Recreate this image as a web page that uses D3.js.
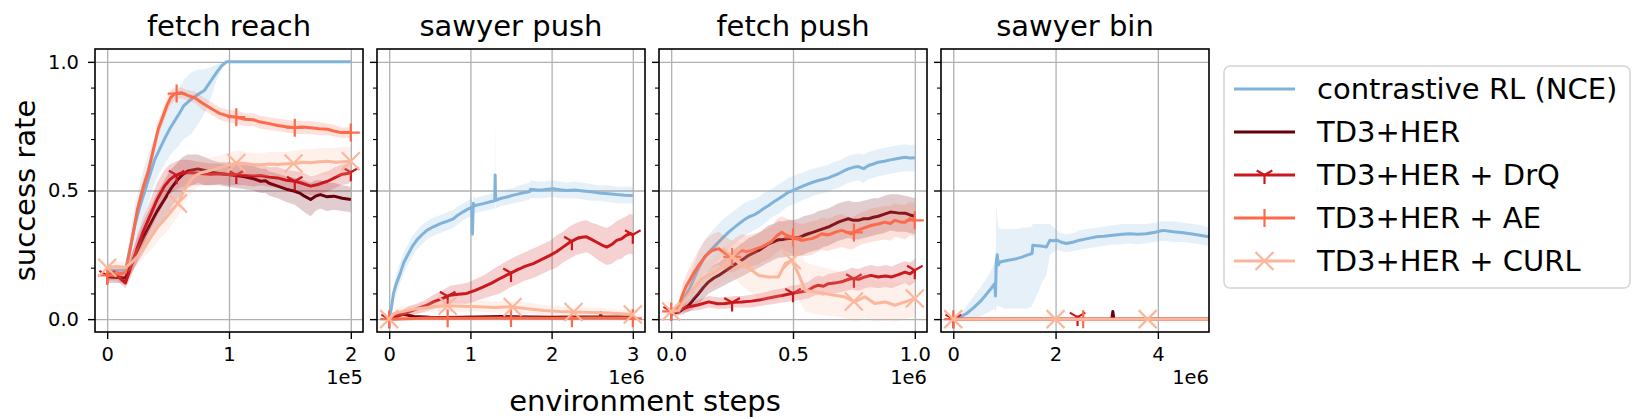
<!DOCTYPE html>
<html>
<head>
<meta charset="utf-8">
<script src="https://cdn.jsdelivr.net/npm/d3@7"></script>
<style>
  body { margin: 0; background: #fff; }
  text { font-family: "DejaVu Sans", sans-serif; fill: #000; }
</style>
</head>
<body>
<div id="chart-area"></div>
<script>
// ---- DATA: [step, mean, lower, upper], steps in units of the panel's offset (1e5 / 1e6)

const panelTitles = ["fetch reach", "sawyer push", "fetch push", "sawyer bin"]
const panelXDomains = [[-0.1, 2.1], [-0.15, 3.15], [-0.05, 1.05], [-0.24, 5]]
const panelXTicks = [[0, 1, 2], [0, 1, 2, 3], [0, 0.5, 1], [0, 2, 4]]
const panelXTickLabels = [["0", "1", "2"], ["0", "1", "2", "3"], ["0.0", "0.5", "1.0"], ["0", "2", "4"]]
const panelOffsets = ["1e5", "1e6", "1e6", "1e6"]
const yTicks = [0, 0.5, 1]
const yTickLabels = ["0.0", "0.5", "1.0"]
const yMinorTicks = [0.1, 0.2, 0.3, 0.4, 0.6, 0.7, 0.8, 0.9]

const seriesNames = ["contrastive RL (NCE)", "TD3+HER", "TD3+HER + DrQ", "TD3+HER + AE", "TD3+HER + CURL"]
const seriesColors = ["#80b3da", "#67000d", "#cb181d", "#fb6a4a", "#fcb69b"]
const seriesMarkers = [null, null, "tri", "plus", "x"]

// fetch reach
const fetchReachNCE = [[0,.19,.17,.21],[.15,.19,.17,.21],[.19,.28,.22,.34],[.23,.37,.29,.45],[.27,.44,.35,.53],[.31,.50,.41,.60],[.35,.56,.47,.66],[.39,.62,.53,.71],[.43,.66,.57,.75],[.47,.70,.60,.80],[.52,.745,.64,.85],[.58,.79,.67,.89],[.63,.83,.70,.93],[.69,.855,.72,.96],[.75,.875,.76,.97],[.80,.89,.80,.97],[.85,.925,.86,.98],[.90,.96,.93,.99],[.94,.985,.97,1],[.98,1,1,1],[2,1,1,1]]
const fetchReachTD3 = [[0,.165,.14,.19],[.15,.16,.14,.18],[.20,.215,.18,.25],[.25,.27,.22,.32],[.30,.32,.26,.38],[.36,.374,.31,.44],[.41,.42,.35,.49],[.47,.465,.39,.54],[.52,.505,.43,.58],[.58,.543,.47,.61],[.62,.562,.49,.63],[.66,.575,.51,.64],[.70,.58,.52,.64],[.745,.584,.53,.64],[.80,.578,.52,.63],[.85,.571,.52,.62],[.92,.566,.52,.61],[.99,.562,.515,.61],[1.06,.558,.51,.605],[1.13,.553,.505,.60],[1.2,.546,.50,.595],[1.26,.536,.49,.585],[1.3,.538,.49,.585],[1.33,.528,.48,.575],[1.40,.517,.47,.565],[1.47,.505,.455,.555],[1.54,.497,.445,.55],[1.58,.49,.43,.545],[1.62,.478,.415,.54],[1.67,.465,.40,.53],[1.71,.478,.42,.54],[1.75,.484,.43,.54],[1.80,.476,.42,.53],[1.86,.478,.425,.53],[1.93,.47,.42,.52],[2,.465,.415,.515]]
const fetchReachDrQ = [[0,.17,.15,.19],[.08,.17,.15,.19],[.15,.14,.12,.16],[.20,.21,.17,.25],[.25,.28,.23,.33],[.30,.345,.29,.40],[.36,.41,.35,.47],[.41,.465,.40,.53],[.47,.517,.45,.58],[.51,.54,.48,.60],[.55,.556,.50,.61],[.60,.565,.51,.62],[.66,.57,.52,.62],[.72,.568,.52,.615],[.77,.566,.52,.61],[.85,.563,.52,.605],[.92,.565,.525,.605],[.99,.562,.52,.60],[1.06,.56,.52,.60],[1.13,.558,.52,.60],[1.2,.556,.515,.595],[1.26,.558,.52,.60],[1.33,.552,.515,.59],[1.40,.549,.51,.59],[1.47,.54,.50,.58],[1.54,.536,.495,.575],[1.60,.528,.49,.57],[1.67,.517,.48,.555],[1.72,.522,.485,.56],[1.77,.53,.49,.57],[1.81,.536,.495,.575],[1.87,.55,.51,.59],[1.92,.562,.52,.60],[1.97,.566,.525,.605],[2,.571,.53,.61]]
const fetchReachAE = [[0,.17,.15,.19],[.15,.18,.16,.2],[.20,.30,.27,.33],[.25,.43,.40,.46],[.30,.52,.49,.55],[.335,.57,.54,.60],[.38,.66,.63,.69],[.42,.74,.71,.77],[.46,.79,.76,.82],[.49,.83,.80,.86],[.52,.86,.83,.89],[.55,.875,.85,.90],[.61,.88,.86,.90],[.66,.87,.85,.89],[.72,.86,.84,.885],[.78,.84,.815,.865],[.85,.82,.795,.845],[.92,.80,.775,.825],[.99,.79,.765,.815],[1.06,.785,.76,.81],[1.13,.777,.75,.80],[1.2,.775,.75,.80],[1.26,.766,.74,.79],[1.33,.76,.735,.785],[1.40,.753,.73,.78],[1.47,.748,.725,.775],[1.54,.744,.72,.77],[1.60,.747,.72,.77],[1.67,.744,.72,.77],[1.74,.74,.715,.765],[1.81,.738,.715,.76],[1.87,.73,.71,.755],[1.92,.725,.705,.745],[2,.725,.705,.745]]
const fetchReachCURL = [[0,.20,.18,.22],[.08,.205,.185,.225],[.15,.20,.18,.22],[.20,.22,.19,.25],[.25,.244,.21,.28],[.30,.28,.24,.32],[.36,.32,.27,.37],[.41,.355,.30,.41],[.47,.387,.33,.44],[.52,.415,.36,.47],[.58,.45,.40,.50],[.63,.50,.45,.55],[.69,.543,.49,.59],[.73,.56,.51,.61],[.77,.569,.52,.62],[.83,.576,.53,.625],[.88,.582,.535,.63],[.95,.592,.545,.64],[1.01,.60,.55,.65],[1.07,.608,.56,.655],[1.13,.605,.56,.65],[1.2,.60,.555,.645],[1.26,.60,.555,.645],[1.33,.603,.555,.65],[1.40,.601,.555,.65],[1.47,.604,.555,.65],[1.54,.605,.555,.655],[1.61,.61,.56,.66],[1.67,.608,.56,.66],[1.74,.612,.56,.665],[1.81,.614,.56,.665],[1.87,.61,.555,.665],[1.94,.612,.555,.67],[2,.614,.555,.67]]

// sawyer push
const sawyerPushNCE = [[0,0,0,0],[.03,.05,.03,.07],[.053,.10,.07,.13],[.09,.14,.10,.18],[.135,.177,.14,.22],[.18,.22,.18,.26],[.238,.255,.215,.295],[.29,.285,.245,.325],[.34,.307,.27,.345],[.40,.327,.29,.365],[.463,.345,.31,.38],[.55,.36,.325,.395],[.63,.371,.335,.405],[.71,.38,.345,.415],[.79,.39,.355,.425],[.85,.405,.37,.44],[.91,.417,.385,.45],[.97,.428,.395,.46],[1.02,.436,.40,.47],[1.025,.33,.30,.36],[1.035,.45,.42,.48],[1.05,.44,.41,.47],[1.1,.445,.415,.475],[1.16,.449,.42,.48],[1.23,.455,.425,.485],[1.30,.46,.43,.49],[1.305,.56,.53,.79],[1.31,.462,.43,.49],[1.38,.47,.44,.50],[1.45,.475,.445,.505],[1.53,.482,.45,.51],[1.61,.488,.455,.52],[1.67,.492,.46,.525],[1.73,.496,.465,.53],[1.74,.505,.47,.54],[1.82,.502,.47,.535],[1.90,.503,.47,.535],[2.02,.507,.475,.54],[2.10,.503,.47,.535],[2.18,.50,.47,.53],[2.28,.502,.47,.535],[2.39,.498,.465,.53],[2.49,.495,.46,.525],[2.59,.49,.46,.52],[2.70,.487,.455,.52],[2.80,.484,.45,.515],[2.90,.482,.45,.515],[3,.481,.45,.515]]
const sawyerPushTD3 = [[0,0,0,0],[.06,.015,.008,.022],[.12,.022,.015,.03],[.2,.018,.01,.026],[.3,.01,.005,.016],[.5,.007,.003,.012],[.7,.006,.002,.012],[.9,.007,.003,.012],[1.1,.008,.003,.013],[1.4,.01,.004,.016],[1.7,.008,.003,.014],[2,.007,.002,.012],[2.3,.008,.003,.013],[2.6,.009,.004,.014],[2.605,.025,.01,.03],[2.61,.009,.004,.014],[3,.008,.003,.013]]
const sawyerPushDrQ = [[0,0,0,.01],[.135,.015,.005,.03],[.24,.028,.01,.05],[.34,.04,.02,.06],[.45,.052,.03,.075],[.545,.067,.04,.095],[.65,.08,.05,.11],[.75,.093,.06,.13],[.85,.097,.06,.135],[.955,.10,.06,.14],[1.06,.112,.07,.155],[1.16,.125,.08,.17],[1.26,.14,.09,.19],[1.365,.158,.10,.21],[1.47,.175,.12,.23],[1.57,.19,.135,.245],[1.67,.205,.15,.26],[1.775,.216,.16,.275],[1.88,.232,.175,.29],[1.98,.248,.19,.305],[2.06,.262,.20,.325],[2.14,.28,.22,.34],[2.22,.298,.235,.36],[2.31,.313,.25,.375],[2.37,.318,.255,.38],[2.43,.32,.26,.385],[2.49,.31,.25,.375],[2.55,.30,.235,.37],[2.62,.288,.22,.36],[2.68,.28,.21,.355],[2.74,.29,.215,.365],[2.80,.306,.23,.38],[2.86,.312,.235,.39],[2.92,.326,.25,.40],[2.97,.332,.255,.41],[3,.328,.25,.405]]
const sawyerPushAE = [[0,0,0,.005],[.5,.004,.001,.008],[1,.003,0,.007],[1.5,.004,.001,.008],[2,.003,0,.007],[2.5,.004,.001,.008],[3,.003,0,.007]]
const sawyerPushCURL = [[0,0,0,0],[.05,.02,.01,.03],[.135,.028,.015,.045],[.3,.038,.02,.055],[.45,.044,.025,.065],[.545,.048,.03,.07],[.72,.052,.03,.075],[.9,.05,.03,.075],[1.1,.048,.03,.07],[1.3,.045,.025,.07],[1.5,.048,.025,.07],[1.7,.04,.02,.065],[1.9,.034,.015,.055],[2.1,.03,.015,.05],[2.27,.028,.012,.045],[2.5,.026,.01,.045],[2.7,.024,.01,.04],[2.9,.02,.008,.035],[3,.018,.006,.032]]

// fetch push
const fetchPushNCE = [[0,.028,.02,.04],[.031,.048,.03,.07],[.05,.075,.045,.11],[.072,.112,.07,.16],[.09,.15,.10,.20],[.113,.20,.14,.26],[.134,.235,.17,.30],[.154,.26,.19,.33],[.175,.28,.21,.35],[.195,.30,.23,.37],[.216,.32,.25,.39],[.236,.338,.27,.405],[.257,.355,.29,.42],[.277,.37,.305,.435],[.298,.385,.32,.45],[.318,.397,.335,.46],[.34,.405,.345,.465],[.359,.416,.355,.475],[.38,.43,.37,.49],[.40,.442,.385,.50],[.42,.455,.40,.51],[.441,.468,.41,.525],[.46,.48,.425,.535],[.482,.494,.44,.55],[.50,.50,.445,.555],[.523,.51,.455,.565],[.543,.518,.465,.57],[.563,.526,.47,.58],[.584,.533,.48,.585],[.604,.539,.485,.59],[.625,.544,.49,.595],[.645,.549,.495,.60],[.665,.557,.505,.61],[.686,.565,.51,.615],[.706,.575,.52,.625],[.727,.584,.53,.635],[.748,.59,.535,.64],[.768,.593,.54,.645],[.79,.585,.53,.64],[.81,.597,.545,.65],[.83,.603,.55,.655],[.85,.61,.555,.66],[.875,.614,.56,.665],[.90,.619,.565,.67],[.93,.624,.57,.675],[.96,.629,.575,.68],[.98,.626,.575,.675],[1,.627,.575,.68]]
const fetchPushTD3 = [[0,.022,.01,.035],[.031,.028,.015,.045],[.05,.04,.02,.06],[.072,.054,.03,.08],[.09,.075,.04,.11],[.113,.10,.06,.14],[.134,.125,.08,.17],[.154,.145,.10,.19],[.175,.16,.11,.21],[.195,.17,.12,.22],[.216,.183,.13,.235],[.236,.196,.14,.25],[.257,.21,.15,.27],[.277,.222,.16,.285],[.298,.235,.17,.30],[.318,.248,.18,.315],[.34,.258,.19,.325],[.359,.267,.20,.335],[.38,.28,.21,.35],[.40,.293,.22,.365],[.42,.30,.23,.37],[.441,.309,.24,.38],[.46,.31,.24,.38],[.482,.313,.245,.385],[.50,.314,.245,.385],[.523,.317,.245,.39],[.543,.325,.25,.40],[.563,.332,.26,.405],[.584,.338,.265,.41],[.604,.345,.27,.42],[.625,.352,.28,.425],[.645,.358,.285,.43],[.665,.367,.295,.44],[.686,.377,.305,.45],[.706,.384,.31,.455],[.727,.39,.315,.46],[.748,.384,.31,.455],[.768,.384,.31,.455],[.79,.39,.315,.46],[.81,.39,.32,.465],[.83,.396,.325,.47],[.85,.40,.33,.47],[.875,.408,.335,.48],[.90,.416,.345,.485],[.93,.413,.34,.485],[.96,.412,.34,.48],[.98,.405,.335,.475],[1,.40,.33,.47]]
const fetchPushDrQ = [[0,.03,.02,.04],[.031,.035,.025,.05],[.072,.048,.03,.065],[.11,.055,.035,.075],[.154,.067,.045,.09],[.19,.06,.04,.085],[.222,.061,.04,.085],[.26,.066,.045,.09],[.29,.067,.045,.09],[.33,.07,.045,.095],[.36,.074,.05,.10],[.39,.08,.055,.105],[.427,.087,.06,.115],[.46,.093,.065,.12],[.495,.10,.07,.13],[.53,.105,.075,.135],[.563,.112,.08,.145],[.584,.125,.09,.16],[.604,.132,.095,.17],[.625,.128,.09,.165],[.645,.138,.10,.175],[.67,.14,.10,.18],[.70,.145,.105,.185],[.72,.152,.11,.19],[.74,.158,.115,.20],[.77,.155,.11,.195],[.795,.164,.12,.205],[.82,.17,.125,.21],[.85,.164,.12,.205],[.88,.168,.125,.21],[.905,.164,.12,.205],[.93,.172,.13,.215],[.96,.183,.14,.225],[.98,.176,.13,.22],[1,.19,.145,.235]]
const fetchPushAE = [[0,.03,.02,.04],[.031,.048,.03,.07],[.045,.09,.05,.13],[.06,.125,.08,.17],[.087,.17,.12,.22],[.113,.209,.15,.27],[.14,.245,.18,.31],[.168,.267,.20,.33],[.195,.274,.21,.34],[.222,.255,.19,.32],[.25,.242,.18,.305],[.27,.255,.19,.32],[.29,.267,.20,.33],[.31,.262,.20,.325],[.33,.267,.205,.33],[.37,.28,.22,.34],[.41,.30,.24,.36],[.435,.325,.26,.39],[.454,.338,.275,.40],[.475,.325,.26,.39],[.495,.319,.255,.385],[.515,.312,.25,.375],[.536,.306,.245,.37],[.557,.31,.245,.375],[.577,.313,.25,.38],[.60,.322,.26,.385],[.618,.332,.27,.395],[.64,.327,.265,.39],[.659,.332,.27,.395],[.68,.34,.275,.405],[.70,.345,.28,.41],[.72,.338,.275,.40],[.74,.332,.27,.395],[.76,.342,.28,.405],[.78,.351,.29,.415],[.80,.357,.295,.42],[.82,.364,.30,.43],[.85,.37,.305,.435],[.877,.377,.31,.44],[.90,.372,.305,.44],[.918,.384,.32,.45],[.94,.378,.315,.445],[.96,.377,.31,.445],[.98,.39,.325,.455],[1,.384,.32,.45]]
const fetchPushCURL = [[0,.03,.02,.04],[.031,.035,.02,.05],[.06,.08,.05,.11],[.086,.112,.07,.155],[.127,.158,.11,.21],[.168,.177,.12,.235],[.209,.203,.14,.265],[.25,.242,.17,.31],[.27,.23,.15,.30],[.29,.216,.13,.30],[.33,.19,.10,.28],[.36,.17,.08,.26],[.40,.164,.07,.26],[.44,.164,.07,.26],[.468,.216,.11,.31],[.495,.229,.12,.32],[.522,.177,.08,.28],[.55,.112,.03,.22],[.59,.106,.02,.21],[.63,.10,.015,.20],[.67,.093,.01,.19],[.71,.087,.005,.185],[.754,.067,-.01,.17],[.795,.087,.005,.18],[.836,.061,-.01,.15],[.877,.067,-.005,.15],[.918,.054,-.01,.14],[.96,.067,0,.14],[1,.08,.01,.15]]

// sawyer bin
const sawyerBinNCE = [[0,0,0,0],[.1,.005,0,.01],[.26,.022,0,.05],[.4,.045,0,.09],[.52,.067,.01,.12],[.62,.09,.02,.15],[.715,.113,.03,.18],[.81,.138,.04,.22],[.825,.09,.02,.20],[.84,.22,.05,.44],[.86,.25,.05,.40],[.88,.21,.05,.36],[.91,.222,.05,.35],[1,.226,.04,.35],[1.1,.23,.04,.35],[1.24,.235,.04,.35],[1.34,.241,.04,.355],[1.43,.248,.04,.355],[1.54,.255,.05,.36],[1.555,.287,.06,.37],[1.65,.285,.10,.37],[1.75,.283,.15,.37],[1.82,.28,.17,.37],[1.89,.307,.25,.37],[1.95,.305,.26,.36],[2.02,.307,.27,.345],[2.1,.30,.265,.335],[2.21,.294,.26,.33],[2.35,.30,.265,.335],[2.47,.307,.27,.345],[2.6,.312,.275,.35],[2.8,.32,.28,.355],[2.95,.322,.285,.36],[3.12,.326,.29,.365],[3.3,.33,.29,.37],[3.45,.332,.295,.37],[3.6,.33,.29,.37],[3.77,.332,.295,.37],[3.95,.338,.30,.375],[4.1,.345,.305,.38],[4.3,.34,.30,.38],[4.5,.336,.30,.375],[4.7,.33,.295,.37],[4.85,.325,.29,.365],[5,.32,.285,.355]]
const sawyerBinTD3 = [[0,0,0,0],[3.1,0,0,0],[3.12,.03,0,.04],[3.14,0,0,0],[5,0,0,0]]
const sawyerBinDrQ = [[0,0,0,0],[2.4,0,0,0],[2.43,.008,0,.015],[2.46,0,0,0],[5,0,0,0]]
const sawyerBinAE = [[0,0,0,0],[5,0,0,0]]
const sawyerBinCURL = [[0,0,0,0],[5,0,0,0]]

const panelSeries = [
    [fetchReachNCE, fetchReachTD3, fetchReachDrQ, fetchReachAE, fetchReachCURL],
    [sawyerPushNCE, sawyerPushTD3, sawyerPushDrQ, sawyerPushAE, sawyerPushCURL],
    [fetchPushNCE, fetchPushTD3, fetchPushDrQ, fetchPushAE, fetchPushCURL],
    [sawyerBinNCE, sawyerBinTD3, sawyerBinDrQ, sawyerBinAE, sawyerBinCURL]
]

// steps where the markers sit, per panel, per series
const markerSteps = [
    [[], [], [0, .57, 1.06, 1.54, 2], [0, .57, 1.06, 1.54, 2], [0, .58, 1.06, 1.53, 2]],
    [[], [], [0, .72, 1.5, 2.25, 3], [0, .72, 1.5, 2.25, 3], [0, .72, 1.52, 2.27, 3]],
    [[], [], [0, .25, .5, .75, 1], [0, .25, .5, .75, 1], [0, .25, .495, .75, 1]],
    [[], [], [0, 2.43], [0, 2.54], [0, 2, 3.8]]
]

// ---- LAYOUT
const WIDTH = 1645, HEIGHT = 419
const PANEL = {TOP: 49, HEIGHT: 283, WIDTH: 268}
const PANEL_LEFTS = [95, 377, 659, 941]
const LEGEND = {LEFT: 1224, TOP: 66, WIDTH: 406, HEIGHT: 222, ROW: 43}
const BIG_FONT = 29, TICK_FONT = 19.5

const svg = d3.select("#chart-area").append("svg")
    .attr("width", WIDTH)
    .attr("height", HEIGHT)

const y = d3.scaleLinear()
    .domain([-0.05, 1.05])
    .range([PANEL.TOP + PANEL.HEIGHT, PANEL.TOP])

function valueAt(data, step) {
    const i = d3.bisector(d => d[0]).left(data, step)
    if (i <= 0) return data[0][1]
    if (i >= data.length) return data[data.length - 1][1]
    const a = data[i - 1], b = data[i]
    const t = (step - a[0]) / (b[0] - a[0])
    return a[1] + t * (b[1] - a[1])
}

function drawMarker(g, type, cx, cy, color) {
    let p = ""
    if (type === "tri") {
        const s = 9
        p = `M${cx},${cy}V${cy + s}M${cx},${cy}L${cx - s * 0.866},${cy - s * 0.5}M${cx},${cy}L${cx + s * 0.866},${cy - s * 0.5}`
    } else if (type === "plus") {
        const s = 9
        p = `M${cx - s},${cy}H${cx + s}M${cx},${cy - s}V${cy + s}`
    } else if (type === "x") {
        const s = 9
        p = `M${cx - s},${cy - s}L${cx + s},${cy + s}M${cx - s},${cy + s}L${cx + s},${cy - s}`
    }
    g.append("path")
        .attr("d", p)
        .attr("fill", "none")
        .attr("stroke", color)
        .attr("stroke-width", 2.2)
}

panelTitles.forEach((title, p) => {
    const left = PANEL_LEFTS[p]
    const bottom = PANEL.TOP + PANEL.HEIGHT
    const x = d3.scaleLinear()
        .domain(panelXDomains[p])
        .range([left, left + PANEL.WIDTH])

    const g = svg.append("g").attr("class", "panel")

    svg.append("clipPath").attr("id", `clip-${p}`)
        .append("rect")
        .attr("x", left).attr("y", PANEL.TOP)
        .attr("width", PANEL.WIDTH).attr("height", PANEL.HEIGHT)

    // --- grid
    g.append("g")
        .attr("transform", `translate(0, ${bottom})`)
        .call(d3.axisBottom(x).tickValues(panelXTicks[p]).tickSize(-PANEL.HEIGHT).tickFormat(""))
        .call(a => a.select(".domain").remove())
        .selectAll("line").attr("stroke", "#b0b0b0").attr("stroke-width", 1.3)
    g.append("g")
        .attr("transform", `translate(${left}, 0)`)
        .call(d3.axisRight(y).tickValues(yTicks).tickSize(PANEL.WIDTH).tickFormat(""))
        .call(a => a.select(".domain").remove())
        .selectAll("line").attr("stroke", "#b0b0b0").attr("stroke-width", 1.3)

    // --- series
    const plot = g.append("g").attr("clip-path", `url(#clip-${p})`)
    const area = d3.area()
        .x(d => x(d[0]))
        .y0(d => y(d[2]))
        .y1(d => y(d[3]))
    const line = d3.line()
        .x(d => x(d[0]))
        .y(d => y(d[1]))

    panelSeries[p].forEach((data, s) => {
        plot.append("path")
            .attr("d", area(data))
            .attr("fill", seriesColors[s])
            .attr("fill-opacity", 0.2)
        plot.append("path")
            .attr("d", line(data))
            .attr("fill", "none")
            .attr("stroke", seriesColors[s])
            .attr("stroke-width", 3)
            .attr("stroke-linejoin", "round")
        markerSteps[p][s].forEach(step => {
            drawMarker(plot, seriesMarkers[s], x(step), y(valueAt(data, step)), seriesColors[s])
        })
    })

    // --- axes
    const xAxis = g.append("g")
        .attr("transform", `translate(0, ${bottom})`)
        .call(d3.axisBottom(x)
            .tickValues(panelXTicks[p])
            .tickSize(7)
            .tickPadding(8)
            .tickFormat((d, i) => panelXTickLabels[p][i]))
    xAxis.select(".domain").remove()
    xAxis.selectAll("line").attr("stroke", "#000").attr("stroke-width", 1.4)
    xAxis.selectAll("text").attr("font-size", TICK_FONT).attr("font-family", "DejaVu Sans")

    const yAxis = g.append("g")
        .attr("transform", `translate(${left}, 0)`)
        .call(d3.axisLeft(y)
            .tickValues(yTicks)
            .tickSize(7)
            .tickPadding(9)
            .tickFormat((d, i) => p === 0 ? yTickLabels[i] : ""))
    yAxis.select(".domain").remove()
    yAxis.selectAll("line").attr("stroke", "#000").attr("stroke-width", 1.4)
    yAxis.selectAll("text").attr("font-size", TICK_FONT).attr("font-family", "DejaVu Sans")

    const yMinor = g.append("g")
        .attr("transform", `translate(${left}, 0)`)
        .call(d3.axisLeft(y).tickValues(yMinorTicks).tickSize(4).tickFormat(""))
    yMinor.select(".domain").remove()
    yMinor.selectAll("line").attr("stroke", "#000").attr("stroke-width", 1.1)

    // --- frame
    g.append("rect")
        .attr("x", left).attr("y", PANEL.TOP)
        .attr("width", PANEL.WIDTH).attr("height", PANEL.HEIGHT)
        .attr("fill", "none")
        .attr("stroke", "#000")
        .attr("stroke-width", 1.6)

    // --- title + offset
    g.append("text")
        .attr("x", left + PANEL.WIDTH / 2)
        .attr("y", 36)
        .attr("text-anchor", "middle")
        .attr("font-size", BIG_FONT)
        .text(title)
    g.append("text")
        .attr("x", left + PANEL.WIDTH)
        .attr("y", 384)
        .attr("text-anchor", "end")
        .attr("font-size", TICK_FONT)
        .text(panelOffsets[p])
})

// --- axis labels
svg.append("text")
    .attr("x", 645)
    .attr("y", 411)
    .attr("text-anchor", "middle")
    .attr("font-size", BIG_FONT)
    .text("environment steps")

svg.append("text")
    .attr("transform", `translate(35, ${PANEL.TOP + PANEL.HEIGHT / 2}) rotate(-90)`)
    .attr("text-anchor", "middle")
    .attr("font-size", BIG_FONT)
    .text("success rate")

// --- legend
const legend = svg.append("g").attr("class", "legend")
legend.append("rect")
    .attr("x", LEGEND.LEFT).attr("y", LEGEND.TOP)
    .attr("width", LEGEND.WIDTH).attr("height", LEGEND.HEIGHT)
    .attr("rx", 6)
    .attr("fill", "#fff")
    .attr("fill-opacity", 0.8)
    .attr("stroke", "#d4d4d4")
    .attr("stroke-width", 1.5)

seriesNames.forEach((name, s) => {
    const cy = LEGEND.TOP + 23 + s * LEGEND.ROW
    legend.append("line")
        .attr("x1", LEGEND.LEFT + 10).attr("x2", LEGEND.LEFT + 71)
        .attr("y1", cy).attr("y2", cy)
        .attr("stroke", seriesColors[s])
        .attr("stroke-width", 3)
    if (seriesMarkers[s]) drawMarker(legend, seriesMarkers[s], LEGEND.LEFT + 40.5, cy, seriesColors[s])
    legend.append("text")
        .attr("x", LEGEND.LEFT + 93)
        .attr("y", cy + BIG_FONT * 0.36)
        .attr("font-size", BIG_FONT)
        .text(name)
})
</script>
</body>
</html>
